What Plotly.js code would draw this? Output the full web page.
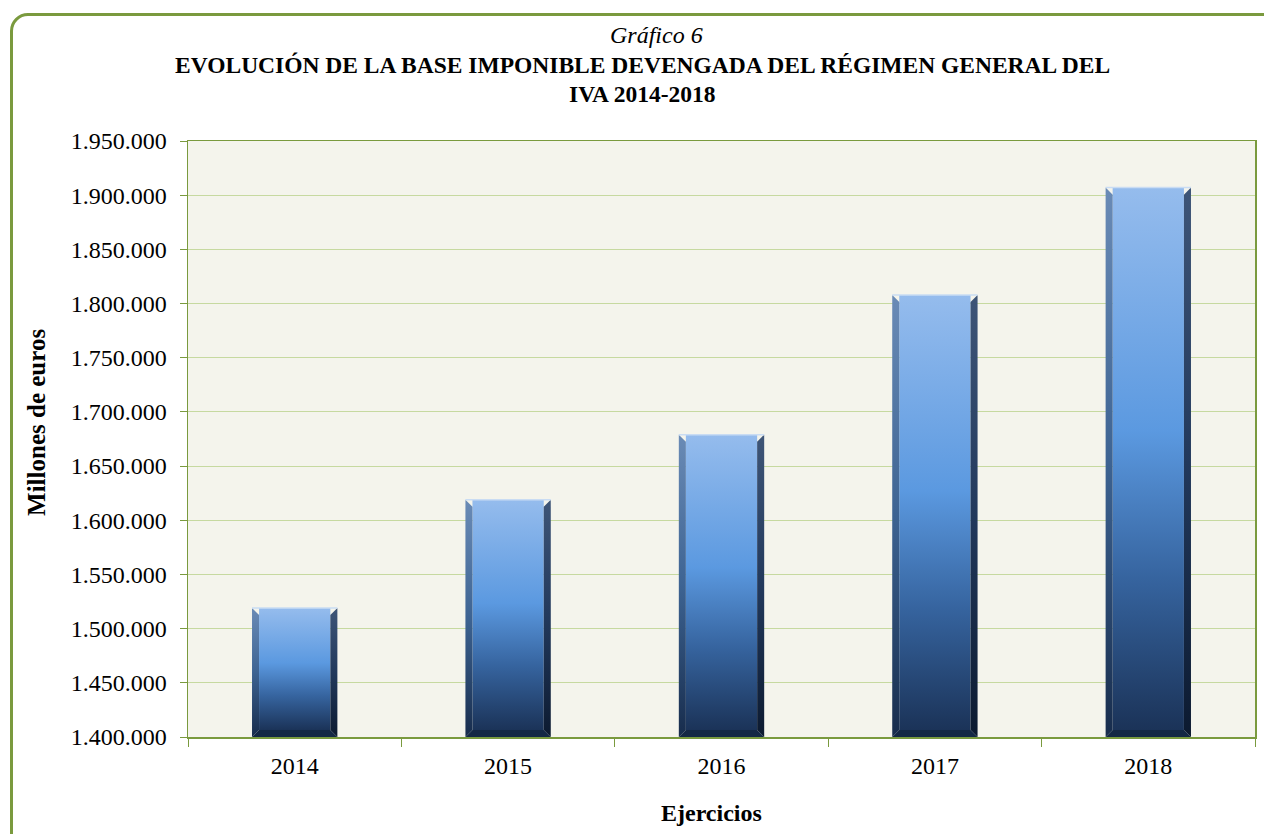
<!DOCTYPE html>
<html>
<head>
<meta charset="utf-8">
<script src="https://cdn.plot.ly/plotly-3.0.1.min.js"></script>
<style>
  html, body { margin: 0; padding: 0; background: #ffffff; overflow: hidden; }
  #frame { position: absolute; left: 10px; top: 13px; width: 1300px; height: 860px;
           border: 3px solid #7a9a3e; border-radius: 18px; box-sizing: border-box; }
  #chart { position: absolute; left: 0; top: 0; width: 1264px; height: 834px; }
</style>
</head>
<body>
<div id="frame"></div>
<div id="chart"></div>
<script>
// ---- data ----
const years = ['2014', '2015', '2016', '2017', '2018'];
const values = [1519000, 1619000, 1679000, 1808000, 1907000]; // millones de euros
const yTickVals = [1400000, 1450000, 1500000, 1550000, 1600000, 1650000, 1700000, 1750000, 1800000, 1850000, 1900000, 1950000];

const base = 1400000;
const yMax = 1950000;

// ---- geometry (derived from the data via axis units) ----
const halfW = 0.2;     // half bar width in category units
const bev = 0.033;     // bevel width (x units)
const bevY = 6500;     // bevel height (y units)

const traces = [];
years.forEach((yr, i) => {
  const v = values[i];
  const L = i - halfW, R = i + halfW;
  // face
  traces.push({
    type: 'scatter', mode: 'lines', fill: 'toself', hoverinfo: 'skip', showlegend: false,
    x: [L + bev, R - bev, R - bev, L + bev, L + bev],
    y: [base + bevY, base + bevY, v, v, base + bevY],
    line: { width: 0, color: 'rgba(0,0,0,0)' },
    fillgradient: { type: 'vertical',
      colorscale: [[0, '#1b3358'], [0.28, '#36649f'], [0.55, '#5b99e0'], [1, '#95bced']] }
  });
  // left bevel
  traces.push({
    type: 'scatter', mode: 'lines', fill: 'toself', hoverinfo: 'skip', showlegend: false,
    x: [L, L, L + bev, L + bev, L],
    y: [base, v, v - bevY, base + bevY, base],
    line: { width: 0, color: 'rgba(0,0,0,0)' },
    fillgradient: { type: 'vertical',
      colorscale: [[0, '#172c4c'], [0.5, '#3d6392'], [1, '#6a8bb6']] }
  });
  // right bevel
  traces.push({
    type: 'scatter', mode: 'lines', fill: 'toself', hoverinfo: 'skip', showlegend: false,
    x: [R, R, R - bev, R - bev, R],
    y: [base, v, v - bevY, base + bevY, base],
    line: { width: 0, color: 'rgba(0,0,0,0)' },
    fillgradient: { type: 'vertical',
      colorscale: [[0, '#0c1a30'], [0.5, '#22395c'], [1, '#3e5577']] }
  });
  // bottom bevel
  traces.push({
    type: 'scatter', mode: 'lines', fill: 'toself', hoverinfo: 'skip', showlegend: false,
    x: [L, R, R - bev, L + bev, L],
    y: [base, base, base + bevY, base + bevY, base],
    line: { width: 0, color: 'rgba(0,0,0,0)' },
    fillcolor: '#142845'
  });
  // top highlight edge
  traces.push({
    type: 'scatter', mode: 'lines', hoverinfo: 'skip', showlegend: false,
    x: [L, R], y: [v, v],
    line: { width: 1.5, color: '#c9dcf3' }
  });
});

const serif = 'Liberation Serif, Times New Roman, serif';
const boundaries = years.map((_, i) => i - 0.5).concat([years.length - 0.5]);

const layout = {
  width: 1264, height: 834,
  margin: { l: 188, r: 9, t: 141, b: 97 },
  paper_bgcolor: 'rgba(0,0,0,0)',
  plot_bgcolor: '#f4f4ec',
  separators: ',.',
  font: { family: serif, color: '#000000', size: 24 },
  showlegend: false,
  xaxis: {
    range: [-0.5, years.length - 0.5],
    tickmode: 'array',
    tickvals: years.map((_, i) => i),
    ticktext: years,
    ticks: '',
    ticklabelstandoff: 7,
    showgrid: false, zeroline: false,
    showline: true, linecolor: '#7a9a3e', linewidth: 1.5, mirror: true,
    tickfont: { family: serif, size: 24, color: '#000' },
    minor: { tickmode: 'array', tickvals: boundaries, ticks: 'outside', ticklen: 8, tickcolor: '#7a9a3e', tickwidth: 1, showgrid: false },
    fixedrange: true
  },
  yaxis: {
    range: [base, yMax],
    tickmode: 'array',
    tickvals: yTickVals,
    tickformat: ',d',
    ticks: 'outside', ticklen: 7, tickcolor: '#7a9a3e',
    ticklabelstandoff: 8,
    showgrid: true, gridcolor: '#c6d9a0', gridwidth: 1,
    zeroline: false,
    showline: true, linecolor: '#7a9a3e', linewidth: 1.5, mirror: true,
    tickfont: { family: serif, size: 24, color: '#000' },
    fixedrange: true
  },
  annotations: [
    { text: '<i>Gráfico 6</i>', xref: 'paper', yref: 'paper', x: 0.4395, y: 1.1779,
      xanchor: 'center', yanchor: 'middle', showarrow: false, font: { family: serif, size: 24 } },
    { text: '<b>EVOLUCIÓN DE LA BASE IMPONIBLE DEVENGADA DEL RÉGIMEN GENERAL DEL</b>', xref: 'paper', yref: 'paper', x: 0.4255, y: 1.1275,
      xanchor: 'center', yanchor: 'middle', showarrow: false, font: { family: serif, size: 23.5 } },
    { text: '<b>IVA 2014-2018</b>', xref: 'paper', yref: 'paper', x: 0.4255, y: 1.0789,
      xanchor: 'center', yanchor: 'middle', showarrow: false, font: { family: serif, size: 23.5 } },
    { text: '<b>Millones de euros</b>', xref: 'paper', yref: 'paper', x: -0.1415, y: 0.527,
      xanchor: 'center', yanchor: 'middle', textangle: -90, showarrow: false, font: { family: serif, size: 25 } },
    { text: '<b>Ejercicios</b>', xref: 'paper', yref: 'paper', x: 0.491, y: -0.1275,
      xanchor: 'center', yanchor: 'middle', showarrow: false, font: { family: serif, size: 24 } }
  ]
};

Plotly.newPlot('chart', traces, layout, { displayModeBar: false, staticPlot: true });
</script>
</body>
</html>
